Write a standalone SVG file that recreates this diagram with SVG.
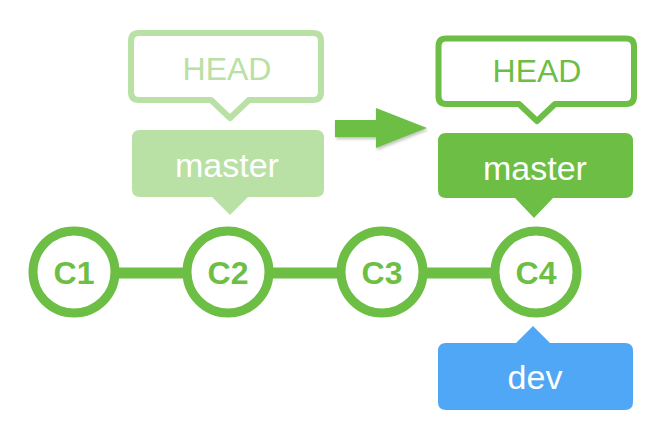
<svg xmlns="http://www.w3.org/2000/svg" width="670" height="436" viewBox="0 0 670 436">
<defs>
<style>
.ring{fill:#fff;stroke:#6cbe45;stroke-width:9}
.ctext{font-family:"Liberation Sans",Arial,sans-serif;font-weight:bold;font-size:32px;fill:#6cbe45;text-anchor:middle}
.lbl{font-family:"Liberation Sans",Arial,sans-serif;font-size:32px;text-anchor:middle}
.big{font-size:34px}
.edge{stroke:#6cbe45;stroke-width:11;fill:none}
</style>
<filter id="sh" x="-20%" y="-20%" width="150%" height="160%">
<feDropShadow dx="1" dy="2" stdDeviation="1.5" flood-color="#000" flood-opacity="0.25"/>
</filter>
</defs>
<rect width="670" height="436" fill="#fff"/>
<g id="connectors">
<line class="edge" x1="74" y1="273" x2="536" y2="273"/>
<path id="move-arrow" d="M335 120 H376 V108 L427 128 L376 148 V137 H335 Z" fill="#6cbe45" filter="url(#sh)"/>
</g>
<g id="C1"><circle class="ring" cx="74" cy="272" r="41"/><text class="ctext" x="74" y="284">C1</text></g>
<g id="C2"><circle class="ring" cx="228" cy="272" r="41"/><text class="ctext" x="228" y="284">C2</text></g>
<g id="C3"><circle class="ring" cx="382" cy="272" r="41"/><text class="ctext" x="382" y="284">C3</text></g>
<g id="C4"><circle class="ring" cx="536" cy="272" r="41"/><text class="ctext" x="536" y="284">C4</text></g>
<g id="head-old">
<path d="M139 33 H313 Q321 33 321 41 V92 Q321 100 313 100 H249 L230 118 L211 100 H139 Q131 100 131 92 V41 Q131 33 139 33 Z" fill="#fff" stroke="#b9e0a5" stroke-width="6" stroke-linejoin="round"/>
<text class="lbl" x="227" y="80" fill="#b9e0a5">HEAD</text>
</g>
<g id="master-old">
<path d="M140 130 H316 Q324 130 324 138 V189 Q324 197 316 197 H248 L230 215 L212 197 H140 Q132 197 132 189 V138 Q132 130 140 130 Z" fill="#b9e0a5"/>
<text class="lbl big" x="227" y="177" fill="#fff">master</text>
</g>
<g id="head-new">
<path d="M446 38.5 H626 Q634 38.5 634 46.5 V96 Q634 104 626 104 H555 L537 121 L519 104 H446 Q438.5 104 438.5 96 V46.5 Q438.5 38.5 446 38.5 Z" fill="#fff" stroke="#6cbe45" stroke-width="6" stroke-linejoin="round"/>
<text class="lbl" x="537" y="82" fill="#6cbe45">HEAD</text>
</g>
<g id="master-new">
<path d="M446 133 H625 Q633 133 633 141 V190 Q633 198 625 198 H553 L534 218 L515 198 H446 Q438 198 438 190 V141 Q438 133 446 133 Z" fill="#6cbe45"/>
<text class="lbl big" x="535" y="180" fill="#fff">master</text>
</g>
<g id="dev">
<path d="M446 343 H516 L533 326 L550 343 H625 Q633 343 633 351 V402 Q633 410 625 410 H446 Q438 410 438 402 V351 Q438 343 446 343 Z" fill="#4fa7f5"/>
<text class="lbl big" x="535" y="389" fill="#fff">dev</text>
</g>
</svg>
